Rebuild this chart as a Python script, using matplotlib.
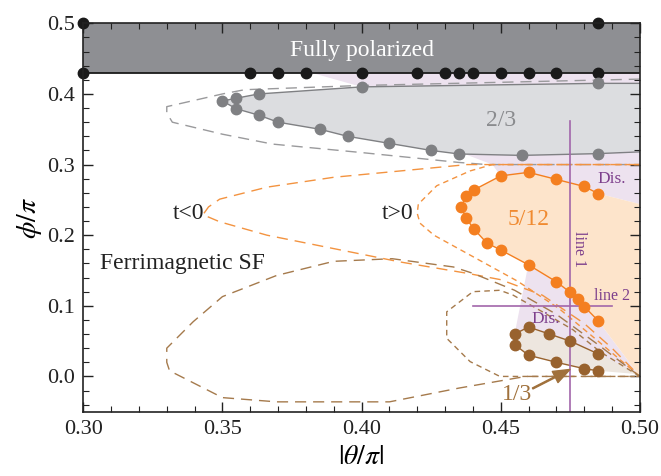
import numpy as np
import matplotlib.pyplot as plt

plt.rcParams['font.family'] = ['Liberation Serif', 'DejaVu Serif']
plt.rcParams['mathtext.fontset'] = 'stix'

# ---- data ----
# fully polarized boundary (black)
fp_x = [0.30, 0.36, 0.37, 0.38, 0.40, 0.42, 0.43, 0.435, 0.44, 0.45, 0.46, 0.47, 0.485]
fp_y = [0.43, 0.43, 0.43, 0.43, 0.43, 0.43, 0.43, 0.43, 0.43, 0.43, 0.43, 0.43, 0.43]
fp_top_x = [0.30, 0.485]
fp_top_y = [0.50, 0.50]

# 2/3 plateau (gray)
g_up_x = [0.35, 0.355, 0.363, 0.40, 0.485]
g_up_y = [0.39, 0.394, 0.40, 0.41, 0.415]
g_lo_x = [0.35, 0.355, 0.363, 0.37, 0.385, 0.395, 0.41, 0.425, 0.435, 0.4575, 0.485]
g_lo_y = [0.39, 0.379, 0.37, 0.36, 0.35, 0.34, 0.33, 0.32, 0.315, 0.313, 0.3155]

# 5/12 plateau (orange)
o_x = [0.485, 0.48, 0.47, 0.46, 0.45, 0.4403, 0.4376, 0.4357, 0.4376, 0.4403, 0.445,
       0.45, 0.46, 0.47, 0.475, 0.4776, 0.48, 0.485]
o_y = [0.259, 0.269, 0.279, 0.289, 0.284, 0.264, 0.255, 0.240, 0.224, 0.209, 0.189,
       0.179, 0.158, 0.134, 0.119, 0.110, 0.099, 0.079]

# 1/3 plateau (brown)
b_up_x = [0.455, 0.46, 0.4675, 0.475, 0.485]
b_up_y = [0.060, 0.070, 0.060, 0.050, 0.032]
b_lo_x = [0.455, 0.46, 0.47, 0.48, 0.485]
b_lo_y = [0.045, 0.030, 0.020, 0.011, 0.008]

# classical boundaries (dashed)
gd_x = [0.5, 0.40, 0.358, 0.35, 0.33, 0.33, 0.332, 0.35, 0.368, 0.40, 0.435, 0.445, 0.5]
gd_y = [0.421, 0.412, 0.406, 0.40, 0.382, 0.373, 0.36, 0.343, 0.329, 0.317, 0.303, 0.30, 0.30]

ol_x = [0.5, 0.438, 0.414, 0.39, 0.366, 0.349, 0.345, 0.343, 0.349, 0.366, 0.39, 0.414,
        0.438, 0.45, 0.465, 0.48, 0.49, 0.5]
ol_y = [0.30, 0.300, 0.291, 0.282, 0.268, 0.251, 0.240, 0.229, 0.219, 0.200, 0.181, 0.162,
        0.146, 0.137, 0.115, 0.075, 0.040, 0.0]

os_x = [0.5, 0.447, 0.439, 0.427, 0.4204, 0.42, 0.421, 0.426, 0.438, 0.456, 0.471, 0.485, 0.5]
os_y = [0.30, 0.30, 0.291, 0.27, 0.244, 0.231, 0.217, 0.20, 0.174, 0.135, 0.096, 0.05, 0.0]

bl_x = [0.5, 0.485, 0.47, 0.455, 0.44, 0.433, 0.411, 0.39, 0.3695, 0.35, 0.3395, 0.33, 0.33,
        0.331, 0.35, 0.3695, 0.41, 0.435, 0.459, 0.5]
bl_y = [0.0, 0.045, 0.088, 0.122, 0.146, 0.155, 0.1667, 0.163, 0.143, 0.113, 0.0775, 0.04, 0.02,
        0.008, -0.03, -0.036, -0.036, -0.0165, 0.0, 0.0]

bs_x = [0.5, 0.4857, 0.476, 0.465, 0.4545, 0.4497, 0.44, 0.4306, 0.4306, 0.439, 0.4497, 0.5]
bs_y = [0.0, 0.035, 0.066, 0.0915, 0.115, 0.122, 0.12, 0.0915, 0.054, 0.021, 0.0, 0.0]

c_fp = '#8e8f93'
c_gfill = '#dcdde0'
c_gray = '#7f8083'
c_lav = '#ede2ef'
c_peach = '#fde4cb'
c_orange = '#f47f20'
c_brown = '#98622e'
c_beige = '#ede6df'
c_purple = '#a266aa'
c_ptext = '#7d3f8c'

fig = plt.figure(figsize=(6.61, 4.76), dpi=100)
ax = fig.add_axes([0.126, 0.135, 0.842, 0.816])

# shaded regions
ax.axhspan(0.43, 0.5, color=c_fp, zorder=1, lw=0)

lav_top_x = [0.382, 0.5, 0.5] + o_x[:5] + [0.447, 0.437, 0.40]
lav_top_y = [0.43, 0.43, 0.244] + o_y[:5] + [0.30, 0.315, 0.41]
ax.fill(lav_top_x, lav_top_y, color=c_lav, lw=0, zorder=1)

gf_x = g_up_x + [0.5, 0.5] + g_lo_x[::-1]
gf_y = g_up_y + [0.415, 0.32] + g_lo_y[::-1]
ax.fill(gf_x, gf_y, color=c_gfill, lw=0, zorder=1.2)

lav_lo_x = [0.46] + o_x[13:] + [0.5] + b_up_x[::-1]
lav_lo_y = [0.16] + o_y[13:] + [0.0] + b_up_y[::-1]
ax.fill(lav_lo_x, lav_lo_y, color=c_lav, lw=0, zorder=1)

of_x = o_x + [0.5, 0.5]
of_y = o_y + [0.0, 0.244]
ax.fill(of_x, of_y, color=c_peach, lw=0, zorder=1.2)

bf_x = b_up_x + [0.5] + b_lo_x[::-1]
bf_y = b_up_y + [0.003] + b_lo_y[::-1]
ax.fill(bf_x, bf_y, color=c_beige, lw=0, zorder=1.2)

# dashed classical boundaries
ax.plot(gd_x, gd_y, color='#9a9a9c', lw=1.0, dashes=(8, 5), zorder=2)
ax.plot(ol_x, ol_y, color='#f39340', lw=1.0, dashes=(8, 5), zorder=2)
ax.plot(os_x, os_y, color='#f39340', lw=1.0, dashes=(4, 3), zorder=2)
ax.plot(bl_x, bl_y, color='#a57a4c', lw=1.0, dashes=(8, 5), zorder=2)
ax.plot(bs_x, bs_y, color='#a57a4c', lw=1.0, dashes=(4, 3), zorder=2)

# solid boundaries with markers
ax.axhline(0.43, color='#1a1a1a', lw=1.3, zorder=3)
ax.plot(g_up_x + [0.5], g_up_y + [0.415], color=c_gray, lw=1.0, zorder=3)
ax.plot(g_lo_x + [0.5], g_lo_y + [0.318], color=c_gray, lw=1.0, zorder=3)
ax.plot(o_x, o_y, color=c_orange, lw=1.0, zorder=3)
ax.plot(b_up_x, b_up_y, color=c_brown, lw=1.0, zorder=3)
ax.plot(b_lo_x, b_lo_y, color=c_brown, lw=1.0, zorder=3)
ax.plot([b_up_x[0], b_lo_x[0]], [b_up_y[0], b_lo_y[0]], color=c_brown, lw=1.0, zorder=3)

ms = 7.5
ax.plot(fp_x, fp_y, 'o', color='#1a1a1a', ms=ms, zorder=5, clip_on=False)
ax.plot(fp_top_x, fp_top_y, 'o', color='#1a1a1a', ms=ms, zorder=5, clip_on=False)
ax.plot(g_up_x, g_up_y, 'o', color=c_gray, ms=ms, zorder=5)
ax.plot(g_lo_x[1:], g_lo_y[1:], 'o', color=c_gray, ms=ms, zorder=5)
ax.plot(o_x, o_y, 'o', color=c_orange, ms=ms, zorder=5)
ax.plot(b_up_x, b_up_y, 'o', color=c_brown, ms=ms, zorder=5)
ax.plot(b_lo_x, b_lo_y, 'o', color=c_brown, ms=ms, zorder=5)

# cuts
ax.plot([0.475, 0.475], [0.362, -0.05], color=c_purple, lw=1.2, zorder=4)
ax.plot([0.44, 0.49], [0.10, 0.10], color=c_purple, lw=1.2, zorder=4)

# labels
ax.text(0.40, 0.4615, 'Fully polarized', color='white', fontsize=17, ha='center', va='center', zorder=6)
ax.text(0.45, 0.362, '2/3', color='#8a8b8e', fontsize=17, ha='center', va='center', zorder=6)
ax.text(0.46, 0.222, '5/12', color='#f08a30', fontsize=17, ha='center', va='center', zorder=6)
ax.text(0.338, 0.231, 't<0', color='#222222', fontsize=17, ha='center', va='center', zorder=6)
ax.text(0.4131, 0.231, 't>0', color='#222222', fontsize=17, ha='center', va='center', zorder=6)
ax.text(0.306, 0.160, 'Ferrimagnetic SF', color='#222222', fontsize=17, ha='left', va='center', zorder=6)
ax.text(0.490, 0.279, 'Dis.', color=c_ptext, fontsize=12.5, ha='center', va='center', zorder=6)
ax.text(0.466, 0.082, 'Dis.', color=c_ptext, fontsize=12.5, ha='center', va='center', zorder=6)
ax.text(0.478, 0.181, 'line 1', color=c_ptext, fontsize=11.5, ha='center', va='center', rotation=-90, zorder=6)
ax.text(0.490, 0.114, 'line 2', color=c_ptext, fontsize=11.5, ha='center', va='center', zorder=6)
ax.text(0.4559, -0.026, '1/3', color='#a0713c', fontsize=17, ha='center', va='center', zorder=6)
ax.annotate('', xy=(0.4749, 0.0099), xytext=(0.4615, -0.017), zorder=6,
            arrowprops=dict(color='#a0713c', width=0.8, headwidth=9, headlength=12, shrink=0.0))

ax.set_xlim(0.30, 0.50)
ax.set_ylim(-0.05, 0.50)
ax.set_xticks([0.30, 0.35, 0.40, 0.45, 0.50])
ax.set_xticks(np.arange(0.30, 0.501, 0.01), minor=True)
ax.set_yticks([0.0, 0.1, 0.2, 0.3, 0.4, 0.5])
ax.set_yticks(np.arange(-0.04, 0.501, 0.02), minor=True)
ax.set_xticklabels(['0.30', '0.35', '0.40', '0.45', '0.50'])
ax.set_yticklabels(['0.0', '0.1', '0.2', '0.3', '0.4', '0.5'])
ax.tick_params(which='both', direction='in', top=True, right=True, labelsize=16, colors='#222222')
ax.tick_params(which='major', length=7, width=1.0, pad=6)
ax.tick_params(which='minor', length=4, width=0.8)
for s in ax.spines.values():
    s.set_linewidth(1.2)
    s.set_color('#222222')
    s.set_zorder(7)

ax.set_xlabel(r'$|\theta/\pi|$', fontsize=20, labelpad=4)
ax.set_ylabel(r'$\phi/\pi$', fontsize=20, labelpad=2)

fig.savefig('out.png', dpi=100)
